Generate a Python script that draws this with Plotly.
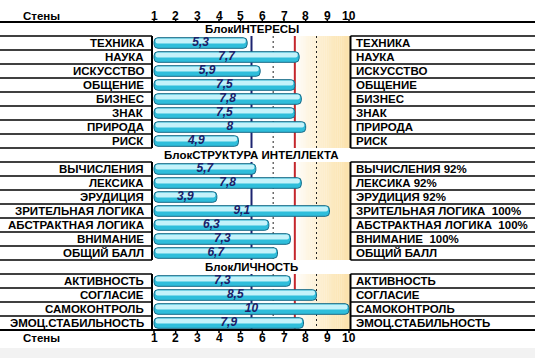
import plotly.graph_objects as go

# ---------------- data ----------------
block_titles = ["БлокИНТЕРЕСЫ", "БлокСТРУКТУРА ИНТЕЛЛЕКТА", "БлокЛИЧНОСТЬ"]

interests_labels = ["ТЕХНИКА", "НАУКА", "ИСКУССТВО", "ОБЩЕНИЕ", "БИЗНЕС", "ЗНАК", "ПРИРОДА", "РИСК"]
interests_right = ["ТЕХНИКА", "НАУКА", "ИСКУССТВО", "ОБЩЕНИЕ", "БИЗНЕС", "ЗНАК", "ПРИРОДА", "РИСК"]
interests_values = [5.3, 7.7, 5.9, 7.5, 7.8, 7.5, 8, 4.9]

intellect_labels = ["ВЫЧИСЛЕНИЯ", "ЛЕКСИКА", "ЭРУДИЦИЯ", "ЗРИТЕЛЬНАЯ ЛОГИКА",
                    "АБСТРАКТНАЯ ЛОГИКА", "ВНИМАНИЕ", "ОБЩИЙ БАЛЛ"]
intellect_right = ["ВЫЧИСЛЕНИЯ 92%", "ЛЕКСИКА 92%", "ЭРУДИЦИЯ 92%",
                   "ЗРИТЕЛЬНАЯ ЛОГИКА \u00a0100%", "АБСТРАКТНАЯ ЛОГИКА \u00a0100%",
                   "ВНИМАНИЕ \u00a0100%", "ОБЩИЙ БАЛЛ"]
intellect_values = [5.7, 7.8, 3.9, 9.1, 6.3, 7.3, 6.7]

personality_labels = ["АКТИВНОСТЬ", "СОГЛАСИЕ", "САМОКОНТРОЛЬ", "ЭМОЦ.СТАБИЛЬНОСТЬ"]
personality_right = ["АКТИВНОСТЬ", "СОГЛАСИЕ", "САМОКОНТРОЛЬ", "ЭМОЦ.СТАБИЛЬНОСТЬ"]
personality_values = [7.3, 8.5, 10, 7.9]

scale_ticks = [1, 2, 3, 4, 5, 6, 7, 8, 9, 10]
scale_title = "Стены"

# ---------------- layout helpers ----------------
W, H = 535, 358
PX0, PXU = 154.0, 195.0 / 9.0      # pixel of value 1, pixels per unit
ROW0, ROWH = 15.0, 14.0            # pixel centre of row 0, row height


def vx(px):
    return 1 + (px - PX0) / PXU


XMIN, XMAX = vx(0), vx(W)
YTOP, YBOT = (0 - ROW0) / ROWH, (H - ROW0) / ROWH

groups = [
    (block_titles[0], interests_labels, interests_right, interests_values),
    (block_titles[1], intellect_labels, intellect_right, intellect_values),
    (block_titles[2], personality_labels, personality_right, personality_values),
]

rows = []          # (row_index, left, right, value)
block_rows = []    # (row_index, title)
group_spans = []   # (first_row, last_row)
r = 1
for title, lab, rlab, vals in groups:
    block_rows.append((r, title))
    r += 1
    first = r
    for a, b, v in zip(lab, rlab, vals):
        rows.append((r, a, b, v))
        r += 1
    group_spans.append((first, r - 1))
footer_row = r

ys = [x[0] for x in rows]
vals = [x[3] for x in rows]

FONT = "Liberation Sans, Arial, sans-serif"
LEFT_B, RIGHT_B = vx(152), vx(350.5)

fig = go.Figure()
shapes = []
annotations = []

# bottom grey band
shapes.append(dict(type="rect", xref="paper", yref="paper", x0=0, x1=1,
                   y0=0, y1=10 / H, fillcolor="#f2f2f2", line_width=0, layer="below"))

# gradient zone 7.5 .. 10 in data rows
NSTEP = 30
c0 = (255, 255, 255)
c1 = (252, 226, 170)
for f, l in group_spans:
    for k in range(NSTEP):
        t = (k + 0.5) / NSTEP
        t = t ** 0.8
        col = tuple(int(c0[j] + (c1[j] - c0[j]) * t) for j in range(3))
        x0 = 7.5 + (RIGHT_B - 7.5) * k / NSTEP
        x1 = 7.5 + (RIGHT_B - 7.5) * (k + 1) / NSTEP + 0.01
        shapes.append(dict(type="rect", xref="x", yref="y", x0=x0, x1=x1,
                           y0=f - 0.5, y1=l + 0.5, fillcolor="rgb(%d,%d,%d)" % col,
                           line_width=0, layer="below"))
    # reference lines
    shapes.append(dict(type="line", xref="x", yref="y", x0=5.5, x1=5.5, y0=f - 0.5, y1=l + 0.5,
                       line=dict(color="#1d2470", width=2), layer="below"))
    shapes.append(dict(type="line", xref="x", yref="y", x0=7.5, x1=7.5, y0=f - 0.5, y1=l + 0.5,
                       line=dict(color="#c4262b", width=2), layer="below"))
    for xv in (6.5, 8.5):
        shapes.append(dict(type="line", xref="x", yref="y", x0=xv, x1=xv, y0=f - 0.5, y1=l + 0.5,
                           line=dict(color="#222222", width=1, dash="2px,3px"), layer="below"))
    # vertical borders
    for xv in (LEFT_B, RIGHT_B):
        shapes.append(dict(type="line", xref="x", yref="y", x0=xv, x1=xv, y0=f - 0.5, y1=l + 0.5,
                           line=dict(color="black", width=2), layer="above"))

# horizontal rules in the label columns
for b in range(0, footer_row):
    yv = b + 0.5
    if b == 0 or b == footer_row - 1:
        shapes.append(dict(type="line", xref="x", yref="y", x0=XMIN, x1=XMAX, y0=yv, y1=yv,
                           line=dict(color="black", width=2), layer="above"))
    else:
        shapes.append(dict(type="line", xref="x", yref="y", x0=XMIN, x1=LEFT_B, y0=yv, y1=yv,
                           line=dict(color="black", width=1.5), layer="above"))
        shapes.append(dict(type="line", xref="x", yref="y", x0=RIGHT_B, x1=XMAX, y0=yv, y1=yv,
                           line=dict(color="black", width=1.5), layer="above"))

# tick marks + tick labels (header and footer)
for t in scale_ticks:
    shapes.append(dict(type="line", xref="x", yref="y", x0=t, x1=t, y0=0.28, y1=0.5,
                       line=dict(color="black", width=1.5), layer="above"))
    shapes.append(dict(type="line", xref="x", yref="y", x0=t, x1=t,
                       y0=footer_row - 0.5, y1=footer_row - 0.28,
                       line=dict(color="black", width=1.5), layer="above"))
    for rr in (0, footer_row):
        annotations.append(dict(x=t, y=rr + 0.1, xref="x", yref="y", text="<b>%d</b>" % t,
                                showarrow=False, xanchor="center", yanchor="middle",
                                font=dict(family=FONT, size=12, color="black")))

for rr in (0, footer_row):
    annotations.append(dict(x=vx(21), y=rr + 0.1, xref="x", yref="y", text="<b>%s</b>" % scale_title,
                            showarrow=False, xanchor="left", yanchor="middle",
                            font=dict(family=FONT, size=11.5, color="black")))

# block titles
for rr, title in block_rows:
    annotations.append(dict(x=5.5, y=rr, xref="x", yref="y", text="<b>%s</b>" % title,
                            showarrow=False, xanchor="center", yanchor="middle",
                            font=dict(family=FONT, size=11.5, color="black")))

# row labels
for rr, a, b, v in rows:
    annotations.append(dict(x=vx(146), y=rr, xref="x", yref="y", text="<b>%s</b>" % a,
                            showarrow=False, xanchor="right", yanchor="middle",
                            font=dict(family=FONT, size=11.5, color="black")))
    annotations.append(dict(x=vx(354), y=rr, xref="x", yref="y", text="<b>%s</b>" % b,
                            showarrow=False, xanchor="left", yanchor="middle",
                            font=dict(family=FONT, size=11.5, color="black")))

# bars
fig.add_trace(go.Bar(
    y=ys, x=[v - 1 for v in vals], base=[1] * len(vals), orientation="h",
    width=0.76, marker=dict(color="#2fbedb", line=dict(color="#1a6a86", width=1), cornerradius=4),
    hoverinfo="skip", showlegend=False))
fig.add_trace(go.Bar(
    y=ys, x=[v - 1 - 0.14 for v in vals], base=[1.07] * len(vals), orientation="h",
    width=0.36, offset=-0.32, marker=dict(color="#c4f2fa", line=dict(width=0), cornerradius=3),
    hoverinfo="skip", showlegend=False))
fig.add_trace(go.Scatter(
    y=ys, x=[(1 + v) / 2 for v in vals], mode="text",
    text=["<b><i>%s</i></b>" % (("%g" % v).replace(".", ",")) for v in vals],
    textposition="middle center",
    textfont=dict(family=FONT, size=12, color="#1b2068"),
    hoverinfo="skip", showlegend=False))

fig.update_layout(
    width=W, height=H, margin=dict(l=0, r=0, t=0, b=0),
    paper_bgcolor="white", plot_bgcolor="white",
    barmode="overlay",
    xaxis=dict(range=[XMIN, XMAX], visible=False, fixedrange=True),
    yaxis=dict(range=[YBOT, YTOP], visible=False, fixedrange=True),
    shapes=shapes, annotations=annotations, showlegend=False,
)

fig.write_html("out.html", config={"displayModeBar": False})
